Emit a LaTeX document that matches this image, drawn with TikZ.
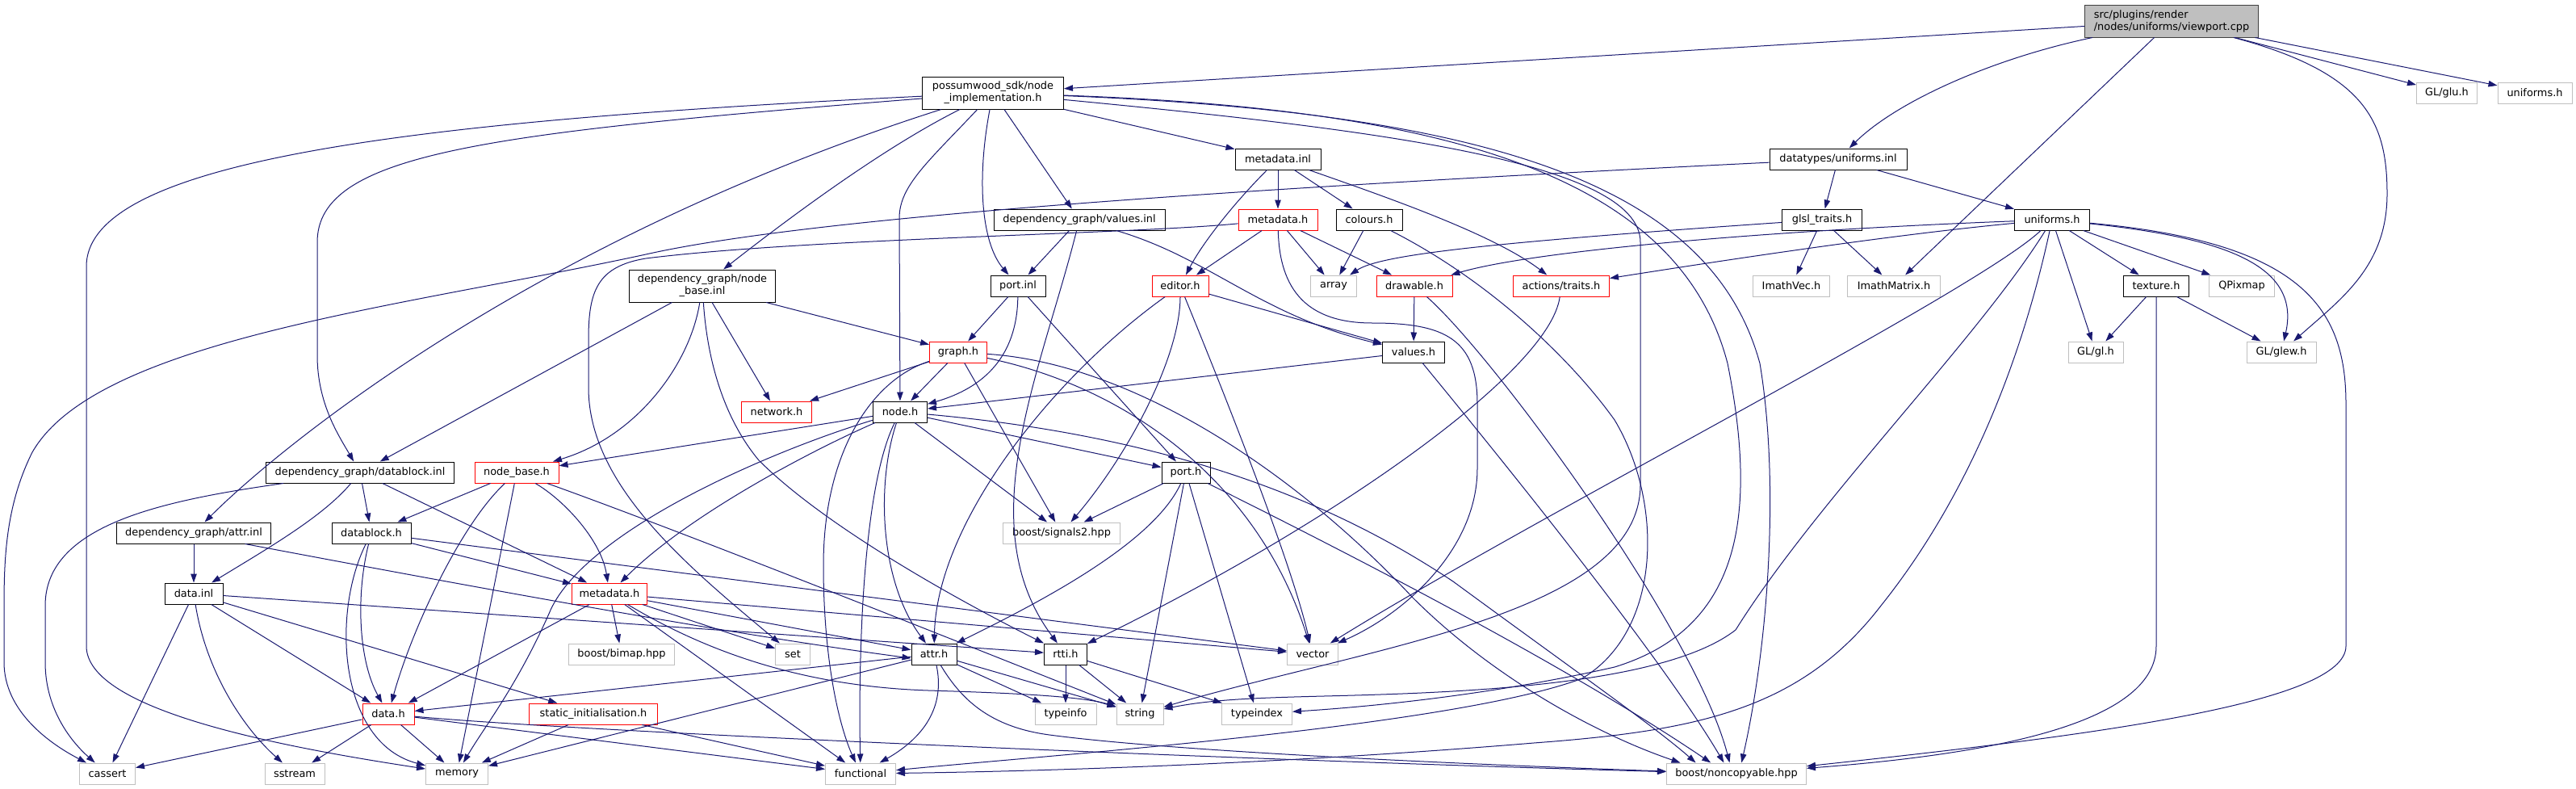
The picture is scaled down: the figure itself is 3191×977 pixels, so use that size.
\documentclass[tikz,border=0pt]{standalone}
\usepackage{fontspec}
\setmainfont{DejaVu Sans}
\usetikzlibrary{arrows.meta}
\definecolor{eblue}{HTML}{191970}
\definecolor{gbord}{HTML}{BFBFBF}
\definecolor{rootfill}{HTML}{BFBFBF}
\definecolor{rootbord}{HTML}{404040}
\newcommand{\fsz}{\fontsize{12.9pt}{15pt}\selectfont}
\newcommand{\mknode}[7]{\node[#1, minimum width=#5pt, minimum height=#6pt] (#2) at (#3,#4) {#7};}
\tikzset{
  box/.style={draw, rectangle, inner sep=0pt, font=\fsz, align=center, fill=white, line width=1pt, text=black},
  blk/.style={box, draw=black},
  gry/.style={box, draw=gbord},
  rdd/.style={box, draw=red},
  rootn/.style={box, draw=rootbord, fill=rootfill, align=left},
  edg/.style={draw=eblue, line width=1pt, -{Triangle[length=11pt,width=7.5pt]}}
}
\begin{document}
\begin{tikzpicture}[x=1pt,y=-1pt]
\useasboundingbox (0,0) rectangle (3191,977);
\mknode{rootn}{vp}{2690}{26}{215}{40}{src/plugins/render\\/nodes/uniforms/viewport.cpp}
\mknode{blk}{ni}{1230}{115}{175}{40}{possumwood\_sdk/node\\\_implementation.h}
\mknode{gry}{glu}{3031}{115}{75}{26}{GL/glu.h}
\mknode{gry}{unig}{3140}{115}{92}{26}{uniforms.h}
\mknode{blk}{mdi}{1583}{197}{106}{26}{metadata.inl}
\mknode{blk}{dui}{2277}{197}{170}{26}{datatypes/uniforms.inl}
\mknode{blk}{vin}{1337}{272}{212}{26}{dependency\_graph/values.inl}
\mknode{rdd}{mdh1}{1583}{272}{98}{26}{metadata.h}
\mknode{blk}{col}{1696}{272}{82}{26}{colours.h}
\mknode{blk}{glsl}{2257}{272}{99}{26}{glsl\_traits.h}
\mknode{blk}{unih}{2542}{272}{93}{26}{uniforms.h}
\mknode{blk}{nbi}{870}{354}{181}{40}{dependency\_graph/node\\\_base.inl}
\mknode{blk}{pin}{1261}{354}{68}{26}{port.inl}
\mknode{rdd}{ed}{1462}{354}{70}{26}{editor.h}
\mknode{gry}{arr}{1652}{354}{57}{26}{array}
\mknode{rdd}{drw}{1752}{354}{94}{26}{drawable.h}
\mknode{rdd}{act}{1934}{354}{119}{26}{actions/traits.h}
\mknode{gry}{ivec}{2219}{354}{95}{26}{ImathVec.h}
\mknode{gry}{imat}{2346}{354}{115}{26}{ImathMatrix.h}
\mknode{blk}{tex}{2671}{354}{81}{26}{texture.h}
\mknode{gry}{qpx}{2777}{354}{81}{26}{QPixmap}
\mknode{rdd}{grh}{1187}{436}{71}{26}{graph.h}
\mknode{blk}{vh}{1751}{436}{77}{26}{values.h}
\mknode{gry}{gl}{2596}{436}{68}{26}{GL/gl.h}
\mknode{gry}{glew}{2826}{436}{86}{26}{GL/glew.h}
\mknode{rdd}{nw}{962}{510}{87}{26}{network.h}
\mknode{blk}{nh}{1115}{510}{67}{26}{node.h}
\mknode{blk}{dbi}{446}{585}{233}{26}{dependency\_graph/datablock.inl}
\mknode{rdd}{nbh}{640}{585}{104}{26}{node\_base.h}
\mknode{blk}{ph}{1469}{585}{60}{26}{port.h}
\mknode{blk}{attri}{240}{660}{191}{26}{dependency\_graph/attr.inl}
\mknode{blk}{dbh}{460}{660}{98}{26}{datablock.h}
\mknode{gry}{sig}{1315}{660}{145}{26}{boost/signals2.hpp}
\mknode{blk}{dinl}{240}{735}{72}{26}{data.inl}
\mknode{rdd}{mdh2}{755}{735}{93}{26}{metadata.h}
\mknode{gry}{bimap}{770}{810}{131}{26}{boost/bimap.hpp}
\mknode{gry}{setn}{982}{810}{43}{26}{set}
\mknode{blk}{attrh}{1157}{810}{56}{26}{attr.h}
\mknode{blk}{rtti}{1320}{810}{53}{26}{rtti.h}
\mknode{gry}{vec}{1626}{810}{63}{26}{vector}
\mknode{rdd}{dh}{481}{884}{64}{26}{data.h}
\mknode{rdd}{si}{735}{884}{159}{26}{static\_initialisation.h}
\mknode{gry}{tinfo}{1320}{884}{76}{26}{typeinfo}
\mknode{gry}{str}{1412}{884}{58}{26}{string}
\mknode{gry}{tidx}{1557}{884}{87}{26}{typeindex}
\mknode{gry}{cas}{133}{958}{69}{26}{cassert}
\mknode{gry}{sst}{365}{958}{74}{26}{sstream}
\mknode{gry}{mem}{566}{958}{77}{26}{memory}
\mknode{gry}{fun}{1066}{958}{87}{26}{functional}
\mknode{gry}{nc}{2151}{958}{173}{26}{boost/noncopyable.hpp}

% viewport.cpp
\draw[edg] (vp) -- (ni);
\draw[edg] (vp) .. controls (2470,72) and (2350,125) .. (dui);
\draw[edg] (vp) -- (imat);
\draw[edg] (vp) .. controls (2930,90) and (2957,150) .. (2957,240) .. controls (2957,330) and (2900,370) .. (glew);
\draw[edg] (vp) -- (glu);
\draw[edg] (vp) -- (unig);
% node_implementation.h
\draw[edg] (ni) .. controls (500,150) and (107,200) .. (107,330) -- (107,800) .. controls (107,880) and (350,925) .. (mem);
\draw[edg] (ni) .. controls (600,165) and (393,190) .. (393,300) -- (393,440) .. controls (393,500) and (420,540) .. (dbi);
\draw[edg] (ni) .. controls (650,300) and (340,560) .. (attri);
\draw[edg] (ni) .. controls (1100,180) and (990,260) .. (nbi);
\draw[edg] (ni) .. controls (1150,200) and (1114,230) .. (1114,270) -- (nh);
\draw[edg] (ni) .. controls (1210,220) and (1215,300) .. (pin);
\draw[edg] (ni) -- (vin);
\draw[edg] (ni) -- (mdi);
\draw[edg] (ni) .. controls (1700,160) and (2032,200) .. (2032,300) -- (2032,600) .. controls (2032,760) and (1700,800) .. (str);
\draw[edg] (ni) .. controls (1800,135) and (2080,220) .. (2140,450) .. controls (2180,650) and (2150,780) .. (2000,826) .. controls (1850,860) and (1700,875) .. (tidx);
\draw[edg] (ni) .. controls (1850,140) and (2120,230) .. (2180,450) .. controls (2205,600) and (2190,800) .. (nc.65);
% metadata.inl
\draw[edg] (mdi) -- (mdh1);
\draw[edg] (mdi) .. controls (1530,250) and (1490,300) .. (ed);
\draw[edg] (mdi) -- (col);
\draw[edg] (mdi) .. controls (1720,245) and (1850,290) .. (act);
% datatypes/uniforms.inl
\draw[edg] (dui) .. controls (1500,235) and (1000,270) .. (800,315) .. controls (500,380) and (120,420) .. (40,560) .. controls (5,630) and (5,700) .. (5,760) -- (5,820) .. controls (5,880) and (60,920) .. (cas);
\draw[edg] (dui) -- (glsl);
\draw[edg] (dui) -- (unih);
% values.inl
\draw[edg] (vin) -- (pin);
\draw[edg] (vin) .. controls (1290,460) and (1200,650) .. (rtti);
\draw[edg] (vin) .. controls (1500,320) and (1560,390) .. (vh);
% metadata.h (top)
\draw[edg] (mdh1) .. controls (1400,290) and (1000,295) .. (800,320) .. controls (740,330) and (729,360) .. (729,420) -- (729,480) .. controls (729,600) and (850,700) .. (setn);
\draw[edg] (mdh1) -- (ed);
\draw[edg] (mdh1) -- (arr);
\draw[edg] (mdh1) -- (drw);
\draw[edg] (mdh1) .. controls (1585,360) and (1620,400) .. (1700,400) .. controls (1790,400) and (1830,420) .. (1830,500) -- (1830,580) .. controls (1830,680) and (1740,760) .. (vec);
% editor.h
\draw[edg] (ed) .. controls (1300,470) and (1160,650) .. (attrh);
\draw[edg] (ed) .. controls (1462,440) and (1400,560) .. (sig);
\draw[edg] (ed) .. controls (1530,520) and (1600,700) .. (vec);
\draw[edg] (ed) -- (vh);
% colours.h
\draw[edg] (col) -- (arr);
\draw[edg] (col) .. controls (1850,350) and (1950,450) .. (2000,520) .. controls (2060,620) and (2060,780) .. (1960,840) .. controls (1800,900) and (1300,935) .. (fun);
% drawable.h
\draw[edg] (drw) -- (vh);
\draw[edg] (drw) .. controls (1850,440) and (2100,780) .. (nc.122);
% actions/traits.h
\draw[edg] (act) .. controls (1920,460) and (1650,650) .. (rtti);
% glsl_traits.h
\draw[edg] (glsl) .. controls (1850,300) and (1710,315) .. (arr);
\draw[edg] (glsl) -- (ivec);
\draw[edg] (glsl) -- (imat);
% uniforms.h
\draw[edg] (unih) .. controls (2200,285) and (1900,310) .. (drw);
\draw[edg] (unih) .. controls (2350,290) and (2150,320) .. (act);
\draw[edg] (unih) .. controls (2450,360) and (1900,640) .. (vec);
\draw[edg] (unih) .. controls (2450,420) and (2250,620) .. (2150,780) .. controls (2060,850) and (1800,858) .. (1640,862) .. controls (1560,864) and (1500,866) .. (str);
\draw[edg] (unih) .. controls (2510,420) and (2450,600) .. (2330,750) .. controls (2230,880) and (2100,905) .. (1900,920) .. controls (1600,945) and (1300,955) .. (fun);
\draw[edg] (unih) -- (gl);
\draw[edg] (unih) -- (tex);
\draw[edg] (unih) -- (qpx);
\draw[edg] (unih) .. controls (2760,295) and (2850,330) .. (glew);
\draw[edg] (unih) .. controls (2850,300) and (2906,380) .. (2906,500) -- (2906,800) .. controls (2906,870) and (2600,910) .. (nc);
% texture.h
\draw[edg] (tex) -- (gl);
\draw[edg] (tex) -- (glew);
\draw[edg] (tex) -- (2671,800) .. controls (2671,900) and (2450,935) .. (nc);
% port.inl
\draw[edg] (pin) -- (grh);
\draw[edg] (pin) .. controls (1260,440) and (1220,480) .. (nh);
\draw[edg] (pin) -- (ph);
% graph.h
\draw[edg] (grh) -- (nw);
\draw[edg] (grh) -- (nh);
\draw[edg] (grh) -- (sig);
\draw[edg] (grh) .. controls (1080,470) and (1020,560) .. (1020,700) .. controls (1020,820) and (1040,900) .. (fun);
\draw[edg] (grh) .. controls (1400,480) and (1560,600) .. (vec);
\draw[edg] (grh) .. controls (1400,450) and (1600,580) .. (1750,740) .. controls (1850,840) and (1980,910) .. (nc.169);
% node.h
\draw[edg] (nh) -- (nbh);
\draw[edg] (nh) .. controls (1000,560) and (850,640) .. (mdh2);
\draw[edg] (nh) .. controls (950,560) and (720,660) .. (680,760) .. controls (640,850) and (600,900) .. (mem);
\draw[edg] (nh) .. controls (1070,600) and (1063,800) .. (fun);
\draw[edg] (nh) .. controls (1085,600) and (1090,720) .. (attrh);
\draw[edg] (nh) -- (sig);
\draw[edg] (nh) -- (ph);
\draw[edg] (nh) .. controls (1450,540) and (1650,620) .. (1800,720) .. controls (1950,830) and (2050,900) .. (nc.165);
% datablock.inl
\draw[edg] (dbi) .. controls (200,620) and (56,650) .. (56,750) -- (56,820) .. controls (56,880) and (90,920) .. (cas);
\draw[edg] (dbi) .. controls (400,640) and (330,680) .. (dinl);
\draw[edg] (dbi) -- (dbh);
\draw[edg] (dbi) -- (mdh2);
% node_base.inl
\draw[edg] (nbi) -- (dbi);
\draw[edg] (nbi) .. controls (855,450) and (790,540) .. (nbh);
\draw[edg] (nbi) .. controls (875,430) and (890,510) .. (940,570) .. controls (1020,650) and (1180,740) .. (rtti);
\draw[edg] (nbi) -- (nw);
\draw[edg] (nbi) -- (grh);
% node_base.h
\draw[edg] (nbh) -- (dbh);
\draw[edg] (nbh) .. controls (570,650) and (510,780) .. (dh);
\draw[edg] (nbh) -- (mem);
\draw[edg] (nbh) .. controls (700,620) and (745,670) .. (mdh2);
\draw[edg] (nbh) .. controls (850,660) and (1200,800) .. (str);
% attr.inl
\draw[edg] (attri) -- (dinl);
\draw[edg] (attri.-12.6) .. controls (550,720) and (900,785) .. (attrh.190);
% datablock.h
\draw[edg] (dbh) .. controls (410,760) and (420,920) .. (mem);
\draw[edg] (dbh) .. controls (440,740) and (445,820) .. (dh);
\draw[edg] (dbh) -- (mdh2);
\draw[edg] (dbh) -- (vec);
% data.inl
\draw[edg] (dinl) -- (cas);
\draw[edg] (dinl) .. controls (255,830) and (300,900) .. (sst);
\draw[edg] (dinl) -- (dh);
\draw[edg] (dinl) -- (si);
\draw[edg] (dinl) -- (rtti);
% metadata.h (bottom)
\draw[edg] (mdh2) -- (dh);
\draw[edg] (mdh2) -- (bimap);
\draw[edg] (mdh2) -- (fun);
\draw[edg] (mdh2) -- (setn);
\draw[edg] (mdh2) -- (attrh);
\draw[edg] (mdh2) -- (vec);
\draw[edg] (mdh2) .. controls (880,810) and (1000,850) .. (1150,855) .. controls (1250,858) and (1340,862) .. (str);
% attr.h
\draw[edg] (attrh) -- (dh);
\draw[edg] (attrh) -- (mem);
\draw[edg] (attrh) .. controls (1170,870) and (1150,910) .. (fun);
\draw[edg] (attrh) -- (tinfo);
\draw[edg] (attrh) -- (str);
\draw[edg] (attrh) .. controls (1190,865) and (1225,900) .. (1300,910) .. controls (1450,930) and (1800,946) .. (nc);
% rtti.h
\draw[edg] (rtti) -- (tinfo);
\draw[edg] (rtti) -- (str);
\draw[edg] (rtti) -- (tidx);
% port.h
\draw[edg] (ph) -- (sig);
\draw[edg] (ph) .. controls (1430,670) and (1300,740) .. (attrh);
\draw[edg] (ph) -- (str);
\draw[edg] (ph) -- (tidx);
\draw[edg] (ph) .. controls (1700,700) and (1950,830) .. (nc.157);
% data.h
\draw[edg] (dh) -- (cas);
\draw[edg] (dh) -- (sst);
\draw[edg] (dh) -- (mem);
\draw[edg] (dh) -- (fun);
\draw[edg] (dh) .. controls (700,905) and (1500,940) .. (nc);
% static_initialisation.h
\draw[edg] (si) -- (mem);
\draw[edg] (si) -- (fun);
% values.h
\draw[edg] (vh) -- (nh);
\draw[edg] (vh) .. controls (1820,520) and (2050,800) .. (nc.139);
\end{tikzpicture}
\end{document}
